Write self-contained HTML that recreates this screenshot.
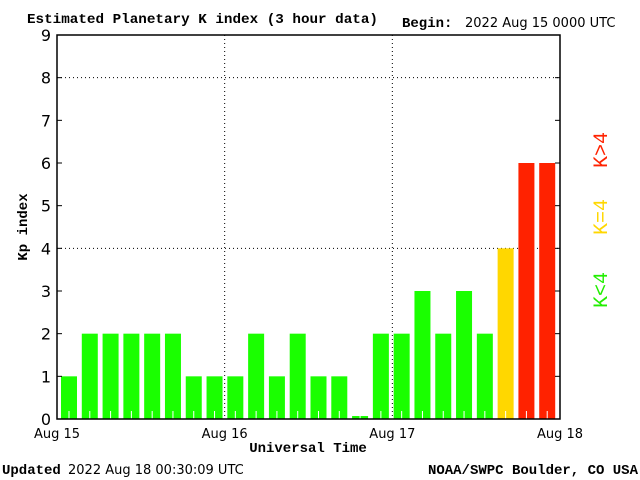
<!DOCTYPE html>
<html><head><meta charset="utf-8">
<style>
html,body{margin:0;padding:0;background:#fff;}
svg{display:block;}
.serif{font-family:"Liberation Mono",monospace;font-weight:bold;}
.sans{font-family:"DejaVu Sans","Liberation Sans",sans-serif;}
</style></head>
<body>
<svg id="chart" width="640" height="480" xmlns="http://www.w3.org/2000/svg">
<text class="serif" x="27" y="23" font-size="14" textLength="351" lengthAdjust="spacingAndGlyphs">Estimated Planetary K index (3 hour data)</text>
<text class="serif" x="402" y="27" font-size="14">Begin:</text>
<text class="sans" x="465" y="27" font-size="13">2022 Aug 15 0000 UTC</text>
<g id="grid"></g>
<g id="bars"></g>
<g id="axes"></g>
<text class="serif" font-size="14" transform="translate(27,227) rotate(-90)" text-anchor="middle">Kp index</text>
<text class="serif" x="308" y="452" font-size="14" text-anchor="middle">Universal Time</text>
<text class="serif" font-size="20" fill="#ff2200" transform="translate(607,150) rotate(-90)" text-anchor="middle" style="font-weight:normal">K&gt;4</text>
<text class="serif" font-size="20" fill="#ffd700" transform="translate(607,217) rotate(-90)" text-anchor="middle" style="font-weight:normal">K=4</text>
<text class="serif" font-size="20" fill="#22ee00" transform="translate(607,290) rotate(-90)" text-anchor="middle" style="font-weight:normal">K&lt;4</text>
<text class="serif" x="2" y="474" font-size="14">Updated</text>
<text class="sans" x="68" y="474" font-size="13">2022 Aug 18 00:30:09 UTC</text>
<text class="serif" x="638" y="474" font-size="14" text-anchor="end">NOAA/SWPC Boulder, CO USA</text>
</svg>
<script>
const kpValues=[1,2,2,2,2,2,1,1,1,2,1,2,1,1,0.07,2,2,3,2,3,2,4,6,6];
const yTicks=[0,1,2,3,4,5,6,7,8,9];
const xTickLabels=["Aug 15","Aug 16","Aug 17","Aug 18"];
const gridY=[4,8];
const NS="http://www.w3.org/2000/svg";
const L=57,R=560,T=35,B=419;
const yS=v=>B-(B-T)*v/9;
const slot=(R-L-4)/kpValues.length;
const xS=i=>L+slot*i;
function mk(tag,at,parent){const e=document.createElementNS(NS,tag);for(const k in at)e.setAttribute(k,at[k]);parent.appendChild(e);return e;}
const grid=document.getElementById('grid'),bars=document.getElementById('bars'),axes=document.getElementById('axes');
gridY.forEach(v=>{const l=mk('line',{x1:L,x2:R,y1:yS(v),y2:yS(v),stroke:'#000','stroke-dasharray':'1,3'},grid);

});
for(let d=1;d<xTickLabels.length-1;d++){const x=L+(R-L)*d/(xTickLabels.length-1);
const l=mk('line',{x1:x,x2:x,y1:T,y2:B,stroke:'#000','stroke-dasharray':'1,3'},grid);

}
kpValues.forEach((v,i)=>{const c=v<4?'#1aff00':(v==4?'#ffd700':'#ff2200');
const x=xS(i)+4,w=16;
const r=mk('rect',{x:x,y:yS(v),width:w,height:B-yS(v),fill:c},bars);


const t=mk('line',{x1:x+w/2,x2:x+w/2,y1:B-8,y2:B,stroke:'#fff'},bars);

});
const frame=mk('rect',{x:L,y:T,width:R-L,height:B-T,fill:'none',stroke:'#000','stroke-width':1.5},axes);


yTicks.forEach(v=>{const y=yS(v);
mk('line',{x1:L,x2:L+5,y1:y,y2:y,stroke:'#000'},axes);
mk('line',{x1:R-5,x2:R,y1:y,y2:y,stroke:'#000'},axes);
const t=mk('text',{x:L-6,y:y+6,'font-size':16,'text-anchor':'end','class':'sans'},axes);
t.textContent=v;

});
xTickLabels.forEach((s,d)=>{const x=L+(R-L)*d/(xTickLabels.length-1);
const t=mk('text',{x:x,y:438,'font-size':13,'text-anchor':'middle','class':'sans'},axes);
t.textContent=s;

});
</script>
</body></html>
